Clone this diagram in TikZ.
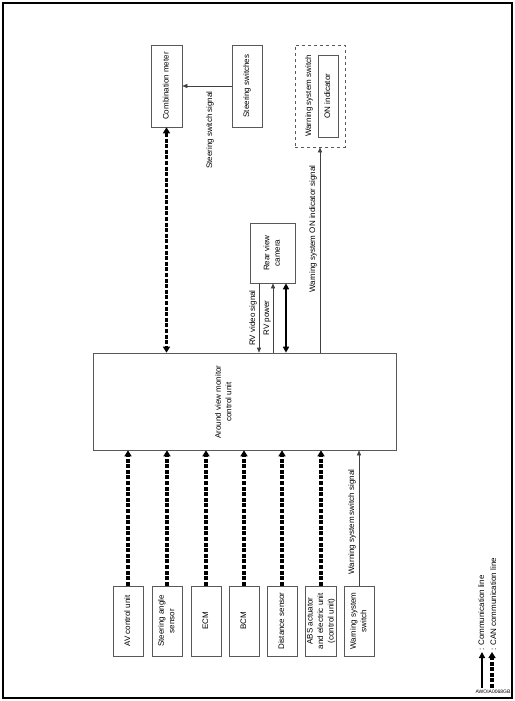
\documentclass[tikz,border=0pt]{standalone}
\usepackage{graphicx}
\usepackage{fontspec}
\setmainfont{Liberation Sans}
\usetikzlibrary{arrows.meta}

% Texto vertical
\newcommand{\vtext}[1]{\rotatebox{90}{\begin{tabular}{@{}c@{}}#1\end{tabular}}}

\begin{document}
\begin{tikzpicture}[x=1pt,y=-1pt,
    font=\fontsize{8}{10.5}\selectfont,
    box/.style={draw=black!65, line width=0.6pt, inner sep=0pt},
    comline/.style={draw=black!75, line width=0.6pt, -{Triangle[length=5pt,width=4pt]}},
    thickboth/.style={black, line width=1.8pt, {Triangle[length=6pt,width=6pt]}-{Triangle[length=6pt,width=6pt]}},
    canline/.style={black, line width=3.2pt, dash pattern=on 4pt off 1.6pt, -{Triangle[length=6pt,width=7pt]}},
    canboth/.style={canline, {Triangle[length=6pt,width=7pt]}-{Triangle[length=6pt,width=7pt]}}]

    % Marco
    \useasboundingbox (0,0) rectangle (514,701);
    \draw[line width=1.5pt] (3,3) rectangle (512,698);

    % Unidades de arriba
    \node[box, minimum width=31, minimum height=82] (meter) at (166.5,86) {\vtext{Combination meter}};
    \node[box, minimum width=30, minimum height=82] (steer) at (247,86) {\vtext{Steering switches}};
    \node[box, dashed, minimum width=50, minimum height=102] (warnsw) at (320,96) {};
    \node[box, minimum width=20, minimum height=82] (onind) at (328,96) {\vtext{ON indicator}};
    \node (warnswtext) at (309,96) {\vtext{Warning system switch}};
    \node[box, minimum width=45, minimum height=60] (camera) at (272.5,253) {\vtext{Rear view\\camera}};

    % Unidad central
    \node[box, minimum width=303, minimum height=97] (avm) at (244.5,401.5) {};
    \node (avmtext) at (224,402) {\vtext{Around view monitor\\control unit}};

    % Unidades de abajo
    \foreach \x/\name/\txt in {128/av/AV control unit, 167/sas/Steering angle\\sensor,
        206/ecm/ECM, 244/bcm/BCM, 282/dist/Distance sensor,
        321/abs/ABS actuator\\and electric unit\\(control unit), 359/wss/Warning system\\switch}
        \node[box, minimum width=30, minimum height=70] (\name) at (\x,621) {\vtext{\txt}};

    % Lineas CAN
    \foreach \name in {av,sas,ecm,bcm,dist,abs}
        \draw[canline] (\name.north) -- (\name.north |- avm.south);
    \draw[canboth] (meter.south) -- (meter.south |- avm.north);

    % Lineas de comunicacion
    \draw[comline] (wss.north) -- (wss.north |- avm.south);
    \draw[comline] (steer.west) -- (meter.east);
    \draw[comline] (warnsw.south |- avm.north) -- (warnsw.south);
    \coordinate (rv1) at ([xshift=-13.5]camera.south);
    \coordinate (rv2) at ([xshift=0.5]camera.south);
    \coordinate (rv3) at ([xshift=13.5]camera.south);
    \draw[comline] (rv1) -- (rv1 |- avm.north);
    \draw[comline] (rv2 |- avm.north) -- (rv2);
    \draw[thickboth] (rv3) -- (rv3 |- avm.north);

    % Etiquetas de senales
    \node (lblsteer) at (210,130) {\vtext{Steering switch signal}};
    \node (lblvideo) at (253,318) {\vtext{RV video signal}};
    \node (lblpower) at (267,318) {\vtext{RV power}};
    \node (lblwon) at (313,229) {\vtext{Warning system ON indicator signal}};
    \node (lblwss) at (352,522) {\vtext{Warning system switch signal}};

    % Leyenda
    \coordinate (leg1) at (482,688);
    \coordinate (leg1e) at (482,652);
    \coordinate (leg2) at (492,688);
    \coordinate (leg2e) at (492,652);
    \draw[black, line width=1.4pt, -{Triangle[length=6pt,width=6pt]}] (leg1) -- (leg1e);
    \draw[canline] (leg2) -- (leg2e);
    \node[anchor=south, inner sep=1pt] (leg1text) at (leg1e) {\vtext{: Communication line}};
    \node[anchor=south, inner sep=1pt] (leg2text) at ([xshift=2]leg2e) {\vtext{: CAN communication line}};
    \node[font=\fontsize{5}{6}\selectfont] (code) at (493,692) {AWOIA0068GB};

\end{tikzpicture}
\end{document}
